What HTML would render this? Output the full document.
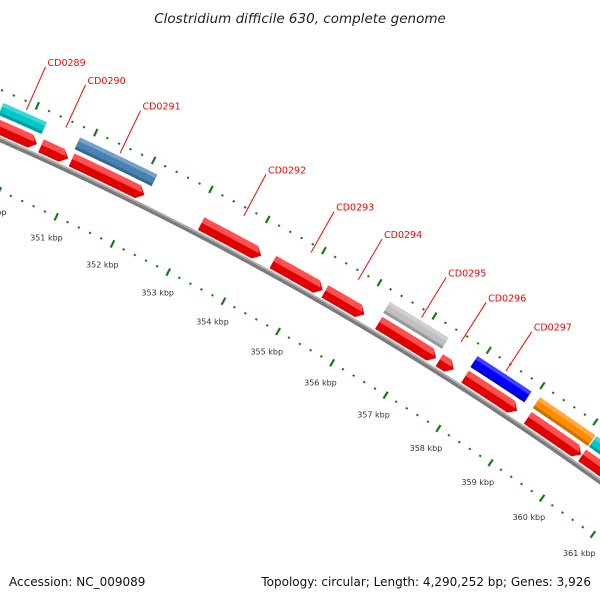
<!DOCTYPE html>
<html><head><meta charset="utf-8"><style>
html,body{margin:0;padding:0;background:#fff;}
svg{display:block;font-family:"DejaVu Sans","Liberation Sans",sans-serif;}
</style></head><body>
<svg id="map" width="600" height="600" viewBox="0 0 600 600" xmlns="http://www.w3.org/2000/svg">
<rect width="600" height="600" fill="#fff"/>
<text x="300" y="23" text-anchor="middle" font-size="13.5" font-style="italic" fill="#222">Clostridium difficile 630, complete genome</text>
<g id="layer"></g>
<text x="9" y="586" font-size="12" fill="#111">Accession: NC_009089</text>
<text x="591" y="586" text-anchor="end" font-size="12" fill="#111">Topology: circular; Length: 4,290,252 bp; Genes: 3,926</text>
</svg>
<script>
const redStarts = [349500, 350310, 350840, 353110, 354390, 355330, 356310, 357430, 357910, 359090, 360130];
const redEnds   = [350240, 350780, 352110, 354180, 355290, 356050, 357370, 357700, 358890, 360110, 361500];
const cogStarts = [349500, 350810, 356290, 357900, 359070, 360140];
const cogEnds   = [350240, 352150, 357370, 358910, 360120, 361500];
const cogColors = ["#00c8c8", "#4682b4", "#c0c0c0", "#0000ff", "#ff8c00", "#00c8c8"];
const labelNames = ["CD0289","CD0290","CD0291","CD0292","CD0293","CD0294","CD0295","CD0296","CD0297"];
const labelPos = [349870, 350545, 351480, 353645, 354840, 355690, 356840, 357565, 358400];
const tickLabels = ["349 kbp","350 kbp","351 kbp","352 kbp","353 kbp","354 kbp","355 kbp","356 kbp","357 kbp","358 kbp","359 kbp","360 kbp","361 kbp"];
const tickKbp = [349,350,351,352,353,354,355,356,357,358,359,360,361];

const NS="http://www.w3.org/2000/svg";
const layer=document.getElementById('layer');
const cx=-1333.5, cy=3176.8, A351=-64.85, degPerBp=1.0944/1000, R0=3317;
function ang(bp){return (A351+(bp-351000)*degPerBp)*Math.PI/180;}
function pt(off,bp){const r=R0+off;const a=ang(bp);return [cx+r*Math.cos(a), cy+r*Math.sin(a)];}
function arcPts(r,s,e){const n=Math.max(2,Math.ceil(Math.abs(e-s)/50));const o=[];for(let i=0;i<=n;i++){o.push(pt(r,s+(e-s)*i/n));}return o;}
function mk(tag,attrs){const el=document.createElementNS(NS,tag);for(const k in attrs)el.setAttribute(k,attrs[k]);layer.appendChild(el);return el;}
function poly(p){return p.map(q=>q[0].toFixed(2)+','+q[1].toFixed(2)).join(' ');}

{
  let el=mk('polyline',{points:poly(arcPts(0,348000,362000)),fill:'none',stroke:'#7a7a7a','stroke-width':5});
  
  
  el=mk('polyline',{points:poly(arcPts(1.5,348000,362000)),fill:'none',stroke:'#b0b0b0','stroke-width':1.5});
  
  
}
for(let bp=348000;bp<=362000;bp+=200){
  const major=bp%1000===0;
  [[-47,'inner'],[46,'outer']].forEach(([r,w])=>{
    let el;
    const d=major?4:1;
    const a=pt(r-d,bp),b=pt(r+d,bp);
    el=mk('line',{x1:a[0],y1:a[1],x2:b[0],y2:b[1],stroke:'#1a7a1a','stroke-width':2.2});
    
    
  });
}
tickKbp.forEach((k,i)=>{
  const p=pt(-70,k*1000);
  const el=mk('text',{x:p[0],y:p[1]+3,'text-anchor':'middle','font-size':8,fill:'#333'});
  el.textContent=tickLabels[i];
  
  
});
const pxPerBp=(R0+10)*degPerBp*Math.PI/180;
redStarts.forEach((s,i)=>{
  const e=redEnds[i], r1=4, r2=18, ah=Math.min(7/pxPerBp,(e-s)*0.5);
  const pts=arcPts(r2,s,e-ah).concat([pt((r1+r2)/2,e)]).concat(arcPts(r1,e-ah,s));
  let el=mk('polygon',{points:poly(pts),fill:'#e00000'});
  
  
  const hl=arcPts(r2,s,e-ah).concat([pt(r2-6,e-ah*0.45)]).concat(arcPts(r2-6,e-ah*0.6,s));
  el=mk('polygon',{points:poly(hl),fill:'#ff5050'});
  
  
});
cogStarts.forEach((s,i)=>{
  const e=cogEnds[i], r1=22, r2=35;
  let el=mk('polygon',{points:poly(arcPts(r2,s,e).concat(arcPts(r1,e,s))),fill:cogColors[i]});
  
  
  el=mk('polygon',{points:poly(arcPts(r2,s,e).concat(arcPts(r2-4,e,s))),fill:'#ffffff','fill-opacity':0.25});
  
  
  el=mk('polygon',{points:poly(arcPts(r1+3,s,e).concat(arcPts(r1,e,s))),fill:'#000','fill-opacity':0.2});
  
  
});
labelPos.forEach((bp,i)=>{
  const a=pt(38,bp), b=pt(85,bp);
  let el=mk('line',{x1:a[0],y1:a[1],x2:b[0],y2:b[1],stroke:'#ff0000','stroke-width':1});
  
  
  el=mk('text',{x:b[0]+2,y:b[1]-1,'font-size':9.5,fill:'#ff0000'});
  el.textContent=labelNames[i];
  
  
});
</script>
</body></html>
